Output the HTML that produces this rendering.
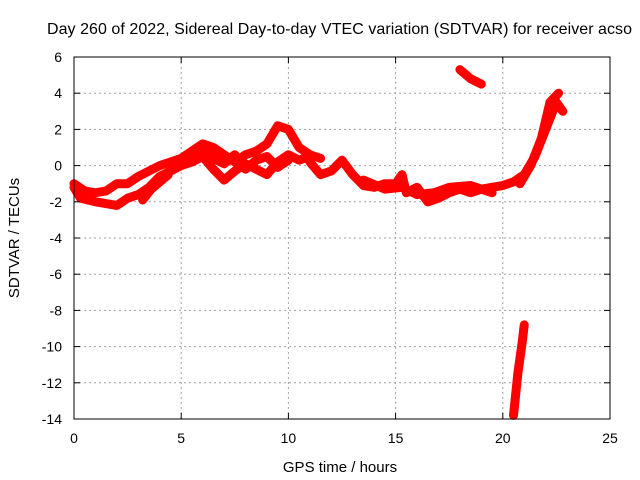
<!DOCTYPE html>
<html><head><meta charset="utf-8"><style>
body{margin:0;background:#fff}
svg{display:block;font-family:"Liberation Sans",sans-serif}
</style></head><body>
<svg id="chart" width="640" height="480">
<g id="grid"></g>
<g id="series"></g>
<rect x="74" y="57" width="536" height="362" fill="none" stroke="#000"/>
<g id="ticks"></g>
<text x="47" y="34" text-anchor="start" font-size="16" textLength="585">Day 260 of 2022, Sidereal Day-to-day VTEC variation (SDTVAR) for receiver acso</text>
<text x="340" y="472" text-anchor="middle" font-size="15">GPS time / hours</text>
<text transform="translate(19,238) rotate(-90)" text-anchor="middle" font-size="15">SDTVAR / TECUs</text>
</svg>
<script>
const xTicks=[0,5,10,15,20,25];
const yTicks=[6,4,2,0,-2,-4,-6,-8,-10,-12,-14];
const trackLower=[[0,-1.2],[0.3,-1.8],[1,-2.0],[2,-2.2],[2.5,-1.8],[3,-1.6],[3.5,-1.2],[4,-0.6],[4.5,-0.3],[5,0],[5.5,0.2],[6,0.5],[6.5,-0.2],[7,-0.8],[7.5,-0.3],[8,0.1],[8.5,-0.2],[9,-0.5],[9.5,0.2],[10,0.6],[10.5,0.3],[11,0.5]];
const trackUpper=[[0,-1.0],[0.5,-1.4],[1,-1.5],[1.5,-1.4],[2,-1.0],[2.5,-1.0],[3,-0.6],[3.5,-0.3],[4,0],[4.5,0.2],[5,0.4],[5.5,0.8],[6,1.2],[6.5,1.0],[7,0.6],[7.5,0.2],[8,0.6],[8.5,0.8],[9,1.2],[9.5,2.2],[10,2.0],[10.5,1.0],[11,0.6],[11.5,0.4]];
const trackMid=[[5.5,0.3],[6,0.9],[6.5,0.4],[7,0.1],[7.5,0.6],[8,-0.2],[8.5,0.3],[9,0.5],[9.5,-0.1],[10,0.3]];
const trackShort=[[3.2,-1.9],[3.6,-1.3],[4.1,-0.8],[4.4,-0.5]];
const trackLate=[[11,0.2],[11.5,-0.5],[12,-0.3],[12.5,0.3],[13,-0.5],[13.5,-1.1],[14,-1.2],[14.5,-1.0],[15,-1.0],[15.3,-0.5],[15.5,-1.5],[16,-1.2],[16.5,-2.0],[17,-1.8],[17.5,-1.5],[18,-1.3],[18.5,-1.5],[19,-1.3],[19.5,-1.2],[20,-1.1],[20.5,-0.9],[21,-0.5],[21.5,0.5],[22,2],[22.5,3.5],[22.8,3.0]];
const trackLate2=[[13.5,-0.8],[14.5,-1.3],[15.3,-1.2],[16,-1.6],[16.8,-1.5],[17.5,-1.2],[18.5,-1.1],[19.5,-1.5]];
const trackBranch=[[20.8,-1.0],[21.3,0],[21.8,1.5],[22.2,3.5],[22.6,4.0]];
const trackHigh=[[18,5.3],[18.5,4.8],[19,4.5]];
const trackDrop=[[20.5,-13.8],[20.7,-11.5],[20.9,-9.8],[21,-8.8]];
const tracks=[trackLower,trackUpper,trackMid,trackShort,trackLate,trackLate2,trackBranch,trackHigh,trackDrop];
const X0=74,X1=610,Y0=419,Y1=57;
const sx=v=>X0+(v-0)/(25-0)*(X1-X0);
const sy=v=>Y0-(v+14)/(6+14)*(Y0-Y1);
const NS="http://www.w3.org/2000/svg";
const mk=(t,a,p)=>{const e=document.createElementNS(NS,t);for(const k in a)e.setAttribute(k,a[k]);p.appendChild(e);return e;};
const grid=document.getElementById('grid'),ticks=document.getElementById('ticks'),ser=document.getElementById('series');
xTicks.forEach(v=>{const x=sx(v);
 if(v>0&&v<25){const g=mk('line',{x1:x,x2:x,y1:Y1,y2:Y0,stroke:'#a0a0a0','stroke-dasharray':'2,3'},grid);}
 mk('line',{x1:x,x2:x,y1:Y0,y2:Y0-6,stroke:'#000'},ticks);mk('line',{x1:x,x2:x,y1:Y1,y2:Y1+6,stroke:'#000'},ticks);
 const t=mk('text',{x:x,y:443,'text-anchor':'middle','font-size':14},ticks);t.textContent=v;
 });
yTicks.forEach(v=>{const y=sy(v);
 if(v>-14&&v<6){const g=mk('line',{x1:X0,x2:X1,y1:y,y2:y,stroke:'#a0a0a0','stroke-dasharray':'2,3'},grid);}
 mk('line',{x1:X0,x2:X0+6,y1:y,y2:y,stroke:'#000'},ticks);mk('line',{x1:X1,x2:X1-6,y1:y,y2:y,stroke:'#000'},ticks);
 const t=mk('text',{x:62,y:y+5,'text-anchor':'end','font-size':14},ticks);t.textContent=v;
 });
tracks.forEach(tr=>{
 const p=mk('polyline',{points:tr.map(d=>sx(d[0])+','+sy(d[1])).join(' '),fill:'none',stroke:'#ff0000','stroke-width':9,'stroke-linejoin':'round','stroke-linecap':'round'},ser);
 
 
 tr.forEach(d=>{const x=sx(d[0]),y=sy(d[1]);
  const m=mk('path',{d:`M${x-4},${y}H${x+4}M${x},${y-4}V${y+4}`,stroke:'#ff0000','stroke-width':1.5},ser);
  
  });
});
</script>
</body></html>
